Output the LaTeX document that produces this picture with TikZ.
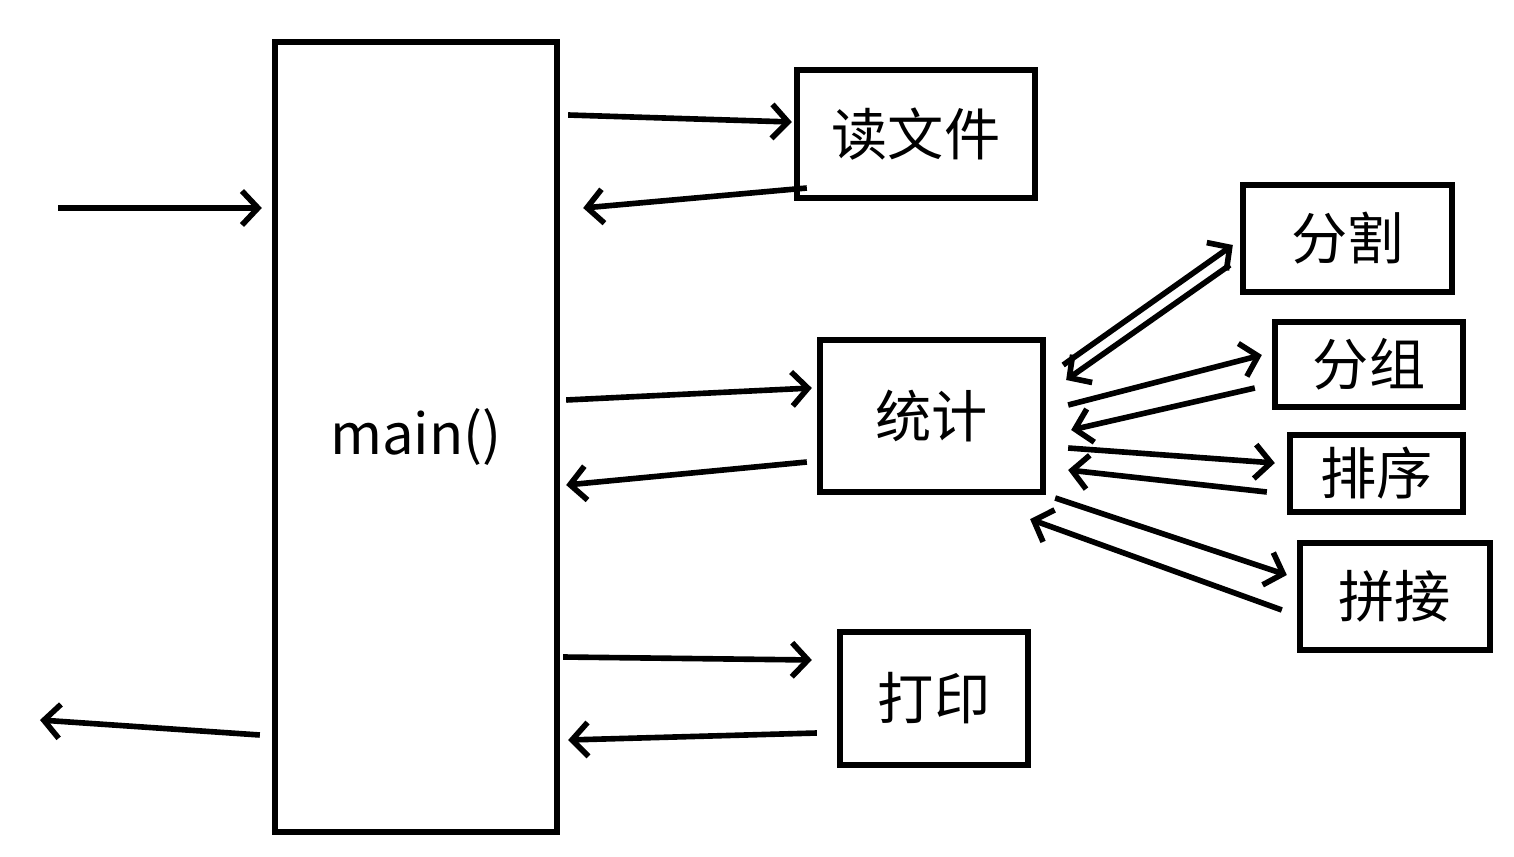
\documentclass[tikz,border=0pt]{standalone}
\usepackage{fontspec}
\setmainfont{Noto Sans CJK SC}
\usetikzlibrary{arrows.meta,calc}

\begin{document}
\begin{tikzpicture}[x=1cm,y=1cm,
  box/.style={draw,line width=1.8pt,inner sep=0pt,font=\fontsize{16}{18}\selectfont},
  flow/.style={line width=1.6pt,-{Straight Barb[length=1.6mm,width=3.4mm,line width=1.6pt]}}]
\path[use as bounding box] (0,0) rectangle (15.14,8.56);
\fill[white] (0,0) rectangle (15.14,8.56);
\node[box,minimum width=2.82cm,minimum height=7.90cm] (main) at (4.16,4.19) {main()};
\node[box,minimum width=2.38cm,minimum height=1.28cm] (file) at (9.16,7.22) {读文件};
\node[box,minimum width=2.23cm,minimum height=1.52cm] (stat) at (9.315,4.40) {统计};
\node[box,minimum width=1.88cm,minimum height=1.33cm] (print) at (9.34,1.575) {打印};
\node[box,minimum width=2.09cm,minimum height=1.07cm] (split) at (13.475,6.175) {分割};
\node[box,minimum width=1.88cm,minimum height=0.85cm] (group) at (13.69,4.915) {分组};
\node[box,minimum width=1.73cm,minimum height=0.77cm] (sort) at (13.765,3.825) {排序};
\node[box,minimum width=1.90cm,minimum height=1.07cm] (join) at (13.95,2.595) {拼接};
\coordinate (entry) at (0.58,6.48);
\coordinate (leave) at (0.40,1.36);
% in and out of main
\draw[flow] (entry) -- ($(main.west |- entry)+(-0.10,0)$);
\draw[flow] ($(main.west)+(-0.12,-2.98)$) -- (leave);
% main <-> file, stat, print
\draw[flow] ($(main.east |- file.west)+(0.08,0.19)$) -- ($(file.west)+(-0.02,0.12)$);
\draw[flow] ($(file.west)+(0.13,-0.54)$) -- ($(main.east |- file.west)+(0.23,-0.74)$);
\draw[flow] ($(main.east |- stat.west)+(0.06,0.16)$) -- ($(stat.west)+(-0.05,0.28)$);
\draw[flow] ($(stat.west)+(-0.10,-0.46)$) -- ($(main.east |- stat.west)+(0.06,-0.69)$);
\draw[flow] ($(main.east |- print.west)+(0.03,0.415)$) -- ($(print.west)+(-0.25,0.385)$);
\draw[flow] ($(print.west)+(-0.20,-0.345)$) -- ($(main.east |- print.west)+(0.08,-0.415)$);
% stat <-> helpers
\draw[flow] ($(stat.east)+(0.17,0.51)$) -- ($(split.west)+(-0.07,-0.065)$);
\draw[flow] ($(split.west)+(-0.10,-0.265)$) -- ($(stat.east)+(0.20,0.36)$);
\draw[flow] ($(stat.east)+(0.22,0.11)$) -- ($(group.west)+(-0.10,0.095)$);
\draw[flow] ($(group.west)+(-0.17,-0.235)$) -- ($(stat.east)+(0.25,-0.14)$);
\draw[flow] ($(stat.east)+(0.22,-0.32)$) -- ($(sort.west)+(-0.12,0.105)$);
\draw[flow] ($(sort.west)+(-0.20,-0.185)$) -- ($(stat.east)+(0.22,-0.54)$);
\draw[flow] ($(stat.east)+(0.09,-0.82)$) -- ($(join.west)+(-0.10,0.215)$);
\draw[flow] ($(join.west)+(-0.15,-0.135)$) -- ($(stat.south east)+(-0.16,-0.24)$);
\end{tikzpicture}
\end{document}
